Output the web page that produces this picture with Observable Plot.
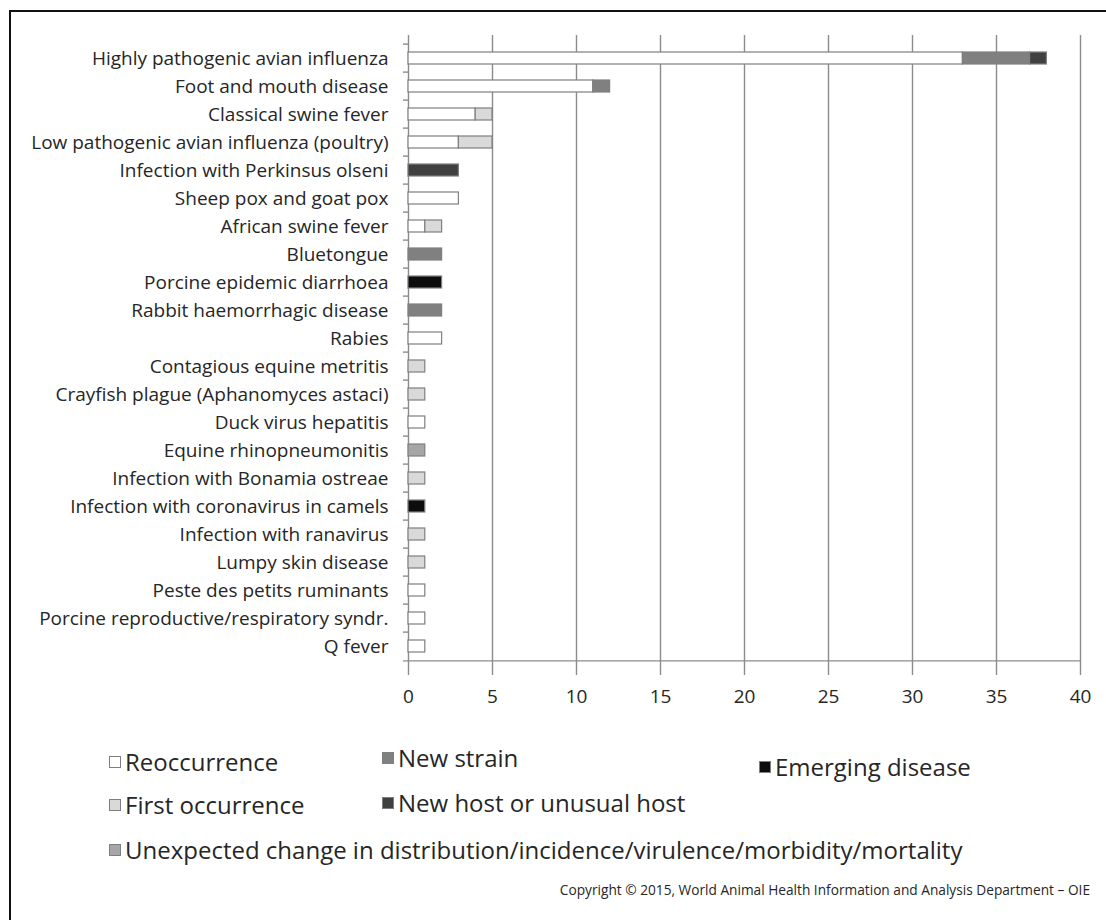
<!DOCTYPE html>
<html>
<head>
<meta charset="utf-8">
<script src="https://cdn.jsdelivr.net/npm/d3@7"></script>
<script src="https://cdn.jsdelivr.net/npm/@observablehq/plot@0.6"></script>
<style>
  html, body { margin: 0; padding: 0; background: #fff; }
  body { width: 1106px; height: 920px; position: relative; overflow: hidden; font-family: "Open Sans", Lato, sans-serif; color: #262626; }
  #frame { position: absolute; left: 9px; top: 10px; width: 1110px; height: 930px; border: 2px solid #111; box-sizing: border-box; }
  #chart { position: absolute; left: 0; top: 0; }
  .leg { position: absolute; font-size: 24px; white-space: nowrap; display: flex; align-items: center; line-height: 1; }
  .sw { width: 12px; height: 12px; border: 1px solid #7f7f7f; margin-right: 4px; box-sizing: border-box; }
  #copy { position: absolute; right: 16px; top: 880px; font-size: 13.7px; white-space: nowrap; }
</style>
</head>
<body>
<div id="frame"></div>
<div id="chart"></div>
<div id="legend"></div>
<div id="copy">Copyright © 2015, World Animal Health Information and Analysis Department – OIE</div>
<script>
const diseases = [
  "Highly pathogenic avian influenza",
  "Foot and mouth disease",
  "Classical swine fever",
  "Low pathogenic avian influenza (poultry)",
  "Infection with Perkinsus olseni",
  "Sheep pox and goat pox",
  "African swine fever",
  "Bluetongue",
  "Porcine epidemic diarrhoea",
  "Rabbit haemorrhagic disease",
  "Rabies",
  "Contagious equine metritis",
  "Crayfish plague (Aphanomyces astaci)",
  "Duck virus hepatitis",
  "Equine rhinopneumonitis",
  "Infection with Bonamia ostreae",
  "Infection with coronavirus in camels",
  "Infection with ranavirus",
  "Lumpy skin disease",
  "Peste des petits ruminants",
  "Porcine reproductive/respiratory syndr.",
  "Q fever"
];
const seriesNames = [
  "Reoccurrence",
  "First occurrence",
  "New strain",
  "New host or unusual host",
  "Emerging disease",
  "Unexpected change in distribution/incidence/virulence/morbidity/mortality"
];
const reoccurrence    = [33,11,4,3,0,3,1,0,0,0,2,0,0,1,0,0,0,0,0,1,1,1];
const firstOccurrence = [0,0,1,2,0,0,1,0,0,0,0,1,1,0,0,1,0,1,1,0,0,0];
const newStrain       = [4,1,0,0,0,0,0,2,0,2,0,0,0,0,0,0,0,0,0,0,0,0];
const newHost         = [1,0,0,0,3,0,0,0,0,0,0,0,0,0,0,0,0,0,0,0,0,0];
const emerging        = [0,0,0,0,0,0,0,0,2,0,0,0,0,0,0,0,1,0,0,0,0,0];
const unexpected      = [0,0,0,0,0,0,0,0,0,0,0,0,0,0,1,0,0,0,0,0,0,0];
const seriesColors = ["#ffffff", "#d9d9d9", "#808080", "#404040", "#0d0d0d", "#a6a6a6"];
const xTicks = [0, 5, 10, 15, 20, 25, 30, 35, 40];

const allSeries = [reoccurrence, firstOccurrence, newStrain, newHost, emerging, unexpected];
const data = [];
seriesNames.forEach((s, si) => {
  diseases.forEach((d, di) => {
    const v = allSeries[si][di];
    if (v > 0) data.push({disease: d, series: s, value: v});
  });
});

const n = diseases.length;
const plot = Plot.plot({
  width: 1106,
  height: 720,
  marginLeft: 408,
  marginRight: 26,
  marginTop: 35,
  marginBottom: 52,
  style: {fontFamily: "'Open Sans', Lato, sans-serif", color: "#262626", background: "transparent"},
  x: {domain: [0, 40], ticks: xTicks, label: null},
  y: {domain: diseases, paddingInner: 0.58, paddingOuter: 0.29, label: null},
  color: {domain: seriesNames, range: seriesColors},
  marks: [
    Plot.ruleX(xTicks, {stroke: "#8c8c8c", strokeWidth: 1.4}),
    Plot.ruleY(diseases, {y: d => d, x1: -0.3, x2: 0, dy: -14.39, stroke: "#8c8c8c", strokeWidth: 1.4}),
    Plot.ruleY([diseases[n - 1]], {y: d => d, x1: -0.3, x2: 40, dy: 14.39, stroke: "#8c8c8c", strokeWidth: 1.4}),
    Plot.barX(data, Plot.stackX({x: "value", y: "disease", fill: "series", order: seriesNames, stroke: "#7f7f7f", strokeWidth: 1.2})),
    Plot.axisX({ticks: xTicks, tickSize: 7, tickPadding: 14, fontSize: 19, stroke: "#8c8c8c", strokeWidth: 1.4, strokeOpacity: 1}),
    Plot.axisY({tickSize: 0, tickPadding: 20, fontSize: 19})
  ]
});
document.getElementById("chart").appendChild(plot);

const legendPos = [
  {x: 109, y: 762},
  {x: 109, y: 805},
  {x: 382, y: 758},
  {x: 382, y: 803},
  {x: 759, y: 767},
  {x: 109, y: 850}
];
const legend = document.getElementById("legend");
seriesNames.forEach((s, i) => {
  const el = document.createElement("div");
  el.className = "leg";
  el.style.left = legendPos[i].x + "px";
  el.style.top = (legendPos[i].y - 14) + "px";
  el.style.height = "28px";
  const sw = document.createElement("span");
  sw.className = "sw";
  sw.style.background = seriesColors[i];
  el.appendChild(sw);
  const t = document.createElement("span");
  t.textContent = s;
  el.appendChild(t);
  legend.appendChild(el);
});
</script>
</body>
</html>
